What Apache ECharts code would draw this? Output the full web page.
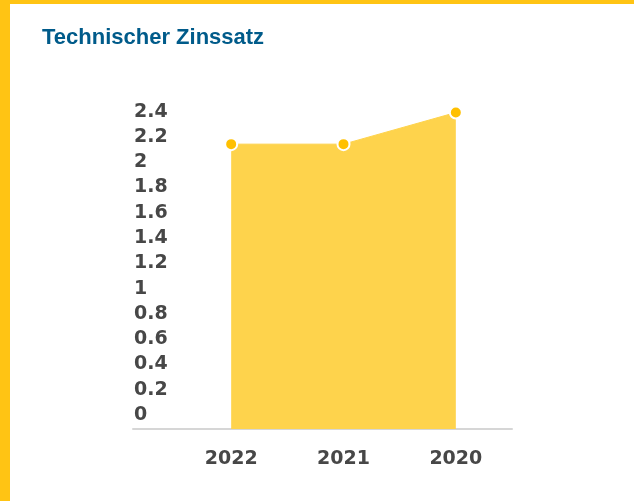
<!DOCTYPE html>
<html>
<head>
<meta charset="utf-8">
<script src="https://cdn.jsdelivr.net/npm/echarts@6/dist/echarts.min.js"></script>
<style>
  html, body { margin: 0; padding: 0; background: #fff; }
  #chart {
    width: 634px; height: 501px; box-sizing: border-box;
    border-left: 10px solid #ffc414; border-top: 4px solid #ffc414;
  }
</style>
</head>
<body>
<div id="chart"></div>
<script>
// Technischer Zinssatz in %
const years = ['2022', '2021', '2020']
const rates = [2.25, 2.25, 2.5]

const labelFont = '"DejaVu Sans", sans-serif'

const chart = echarts.init(document.getElementById('chart'), null, { renderer: 'canvas' })
chart.setOption({
  animation: false,
  title: {
    text: 'Technischer Zinssatz',
    left: 27,
    top: 18,
    textStyle: {
      color: '#005b8a',
      fontFamily: '"Liberation Sans", sans-serif',
      fontWeight: 'bold',
      fontSize: 22
    }
  },
  grid: [
    // the data grid
    { left: 165, right: 122, top: 108.5, bottom: 72 },
    // only carries the long baseline under the chart
    { left: 123, right: 122, top: 108.5, bottom: 72 },
    // value labels sit a bit higher than the data scale in the original
    { left: 165, right: 122, top: 95, bottom: 86 }
  ],
  xAxis: [
    {
      type: 'category',
      gridIndex: 0,
      data: years,
      boundaryGap: true,
      axisLine: { show: false },
      axisTick: { show: false },
      axisLabel: {
        margin: 21,
        color: '#474747',
        fontFamily: labelFont,
        fontWeight: 'bold',
        fontSize: 19
      }
    },
    {
      type: 'category',
      gridIndex: 1,
      data: years,
      axisLine: { show: true, lineStyle: { color: '#d6d6d6', width: 2 } },
      axisTick: { show: false },
      axisLabel: { show: false }
    },
    {
      type: 'category',
      gridIndex: 2,
      data: years,
      show: false
    }
  ],
  yAxis: [
    {
      type: 'value',
      gridIndex: 0,
      min: 0,
      max: 2.5,
      show: false
    },
    {
      type: 'value',
      gridIndex: 1,
      show: false,
      min: 0,
      max: 2.5
    },
    {
      type: 'value',
      gridIndex: 2,
      min: 0,
      max: 2.5,
      interval: 0.2,
      axisLine: { show: false },
      axisTick: { show: false },
      splitLine: { show: false },
      axisLabel: {
        showMinLabel: true,
        showMaxLabel: false,
        align: 'left',
        margin: 41,
        color: '#474747',
        fontFamily: labelFont,
        fontWeight: 'bold',
        fontSize: 19
      }
    }
  ],
  series: [
    {
      type: 'line',
      xAxisIndex: 0,
      yAxisIndex: 0,
      data: rates,
      symbol: 'circle',
      symbolSize: 12,
      itemStyle: { color: '#ffc000', borderColor: '#fff', borderWidth: 2 },
      lineStyle: { color: '#fed34c', width: 1 },
      areaStyle: { color: '#fed34c', opacity: 1 }
    }
  ]
})
</script>
</body>
</html>
